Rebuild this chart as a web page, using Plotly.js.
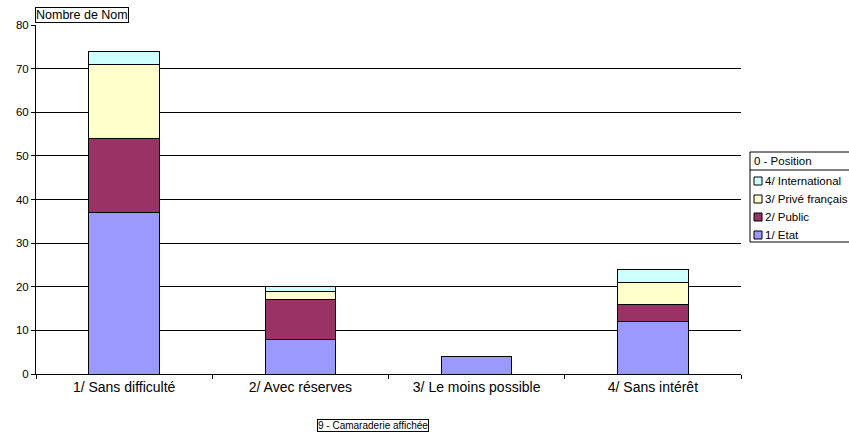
<!DOCTYPE html>
<html>
<head>
<meta charset="utf-8">
<script src="https://cdn.plot.ly/plotly-3.0.1.min.js"></script>
<style>
  html, body { margin: 0; padding: 0; background: #fff; }
  #chart { width: 849px; height: 436px; }
</style>
</head>
<body>
<div id="chart"></div>
<script>
// Categories (x axis)
const categories = ["1/ Sans difficulté", "2/ Avec réserves", "3/ Le moins possible", "4/ Sans intérêt"];

// Series values, stacked from bottom to top
const etat = [37, 8, 4, 12];
const publicSecteur = [17, 9, 0, 4];
const priveFrancais = [17, 2, 0, 5];
const international = [3, 1, 0, 3];

const seriesNames = ["1/ Etat", "2/ Public", "3/ Privé français", "4/ International"];
const seriesColors = ["#9999FF", "#993366", "#FFFFCC", "#CCFFFF"];
const seriesValues = [etat, publicSecteur, priveFrancais, international];

const yTicks = [0, 10, 20, 30, 40, 50, 60, 70, 80];

const legendTitle = "0 - Position";
const yTitle = "Nombre de Nom";
const xTitle = "9 - Camaraderie affichée";

const font = "Liberation Sans, Arial, sans-serif";

// Plot area geometry (pixels)
const W = 849, H = 436;
const M = { l: 36, r: 108, t: 25, b: 62 };
const plotW = W - M.l - M.r, plotH = H - M.t - M.b;
const px = x => (x - M.l) / plotW;          // pixel x -> paper x
const py = y => (H - M.b - y) / plotH;      // pixel y -> paper y

const traces = seriesValues.map((vals, i) => ({
  type: "bar",
  name: seriesNames[i],
  x: categories,
  y: vals,
  marker: { color: seriesColors[i], line: { color: "#000", width: 1 } },
  hoverinfo: "skip"
}));

// Hand-drawn legend box: title row, separator, then series top-down
const shapes = [
  { type: "rect", xref: "paper", yref: "paper", x0: px(750), x1: px(870), y0: py(152), y1: py(242),
    line: { color: "#000", width: 1 }, fillcolor: "#fff", layer: "above" },
  { type: "line", xref: "paper", yref: "paper", x0: px(750), x1: px(870), y0: py(170), y1: py(170),
    line: { color: "#000", width: 1 }, layer: "above" }
];
const annotations = [
  { text: legendTitle, xref: "paper", yref: "paper", x: px(752), y: py(161), xanchor: "left", yanchor: "middle",
    showarrow: false, font: { size: 11.5 } },
  { text: yTitle, xref: "paper", yref: "paper", x: px(35), y: py(23), xanchor: "left", yanchor: "bottom",
    showarrow: false, bordercolor: "#000", borderwidth: 1, borderpad: 0, bgcolor: "#fff",
    font: { size: 12.5 } },
  { text: xTitle, xref: "paper", yref: "paper", x: px(317), y: py(419), xanchor: "left", yanchor: "top",
    showarrow: false, bordercolor: "#000", borderwidth: 1, borderpad: 0, bgcolor: "#fff",
    font: { size: 10 } }
];
const itemRows = [235, 217, 199, 181]; // Etat at the bottom, International at the top
seriesNames.forEach((name, i) => {
  const cy = itemRows[i];
  shapes.push({ type: "rect", xref: "paper", yref: "paper",
    x0: px(754), x1: px(762), y0: py(cy - 4), y1: py(cy + 4),
    line: { color: "#000", width: 1 }, fillcolor: seriesColors[i], layer: "above" });
  annotations.push({ text: name, xref: "paper", yref: "paper", x: px(763), y: py(cy),
    xanchor: "left", yanchor: "middle", showarrow: false, font: { size: 11.5 } });
});

const layout = {
  width: W,
  height: H,
  barmode: "stack",
  bargap: 0.6,
  showlegend: false,
  paper_bgcolor: "#fff",
  plot_bgcolor: "#fff",
  margin: { l: M.l, r: M.r, t: M.t, b: M.b, autoexpand: false },
  font: { family: font, size: 11, color: "#000" },
  xaxis: {
    showline: true, linecolor: "#000", linewidth: 1,
    ticks: "outside", tickson: "boundaries", ticklen: 4, tickcolor: "#000",
    tickfont: { size: 14 },
    showgrid: false, zeroline: false
  },
  yaxis: {
    range: [0, 80],
    tickvals: yTicks,
    showline: true, linecolor: "#000", linewidth: 1,
    ticks: "outside", ticklen: 4, tickcolor: "#000",
    showgrid: true, gridcolor: "#000", gridwidth: 1,
    zeroline: false,
    tickfont: { size: 11.5 }
  },
  shapes: shapes,
  annotations: annotations
};

Plotly.newPlot("chart", traces, layout, { displayModeBar: false, staticPlot: true });
</script>
</body>
</html>
